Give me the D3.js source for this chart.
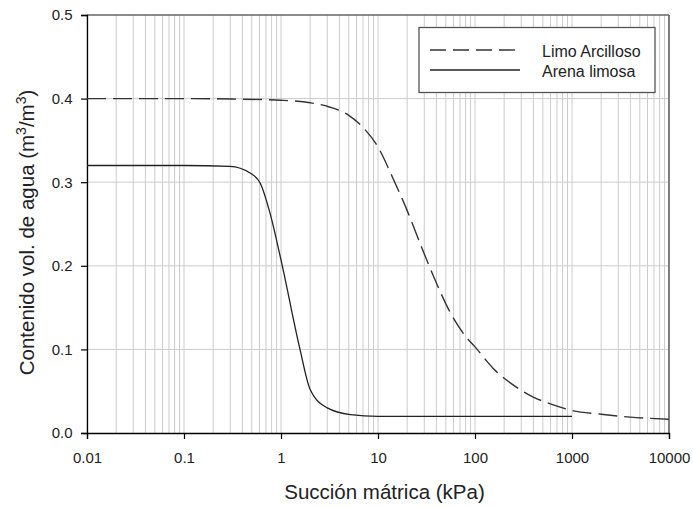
<!DOCTYPE html>
<html><head><meta charset="utf-8">
<script src="https://cdn.jsdelivr.net/npm/d3@7"></script>
<style>body{margin:0;background:#fff;} text{font-family:"Liberation Sans",Arial,sans-serif;}</style>
</head><body><svg id="c" width="693" height="506"></svg>
<script>
const xTicks = [0.01, 0.1, 1, 10, 100, 1000, 10000];
const xTickLabels = ["0.01", "0.1", "1", "10", "100", "1000", "10000"];
const yTicks = [0.0, 0.1, 0.2, 0.3, 0.4, 0.5];
const yTickLabels = ["0.0", "0.1", "0.2", "0.3", "0.4", "0.5"];
const seriesNames = ["Limo Arcilloso", "Arena limosa"];
const limoX = [0.01, 0.1, 0.316, 1, 2, 3.16, 5, 7.08, 10, 14.1, 20, 28.2, 39.8, 56.2, 79.4, 100, 158, 251, 398, 631, 1000, 2000, 3980, 10000];
const limoY = [0.400, 0.400, 0.3995, 0.398, 0.395, 0.390, 0.380, 0.365, 0.342, 0.306, 0.266, 0.222, 0.180, 0.143, 0.116, 0.103, 0.076, 0.057, 0.043, 0.034, 0.027, 0.0225, 0.019, 0.0165];
const arenaX = [0.01, 0.1, 0.297, 0.48, 0.61, 0.77, 1.0, 1.57, 2.0, 3.0, 5.2, 10, 100, 1000];
const arenaY = [0.320, 0.320, 0.319, 0.311, 0.299, 0.263, 0.207, 0.100, 0.052, 0.030, 0.022, 0.020, 0.020, 0.020];

const svg = d3.select("#c");
const L = 87, R = 669, T = 15, B = 433;
const x = d3.scaleLog().domain([0.01, 10000]).range([L, R]);
const y = d3.scaleLinear().domain([0, 0.5]).range([B, T]);

// grid
const g = svg.append("g");
const minor = [];
for (let e = -2; e < 4; e++) for (let m = 1; m <= 9; m++) minor.push(m * Math.pow(10, e));
minor.push(10000);
g.selectAll("line.vg").data(minor).enter().append("line")
  .attr("x1", d => x(d)).attr("x2", d => x(d)).attr("y1", T).attr("y2", B)
  .attr("stroke", "#cccccc").attr("stroke-width", 1);
g.selectAll("line.hg").data(yTicks.slice(1, 5)).enter().append("line")
  .attr("x1", L).attr("x2", R).attr("y1", d => y(d)).attr("y2", d => y(d))
  .attr("stroke", "#cccccc").attr("stroke-width", 1);

// frame top/right
svg.append("line").attr("x1", L).attr("x2", R).attr("y1", T).attr("y2", T).attr("stroke", "#666").attr("stroke-width", 1.6);
svg.append("line").attr("x1", R).attr("x2", R).attr("y1", T).attr("y2", B).attr("stroke", "#666").attr("stroke-width", 1.6);

// axes
const xAxis = d3.axisBottom(x).tickValues(xTicks).tickFormat((d, i) => xTickLabels[i]).tickSize(6).tickPadding(13);
const yAxis = d3.axisLeft(y).tickValues(yTicks).tickFormat((d, i) => yTickLabels[i]).tickSize(6).tickPadding(8.5);
const xa = svg.append("g").attr("transform", `translate(0,${B})`).call(xAxis);
const ya = svg.append("g").attr("transform", `translate(${L},0)`).call(yAxis);
[xa, ya].forEach(a => {
  a.select(".domain").attr("stroke", "#000").attr("stroke-width", 1.3);
  a.selectAll(".tick line").attr("stroke", "#000").attr("stroke-width", 1.2);
  a.selectAll(".tick text").attr("font-size", 15).attr("fill", "#222").style("font-family", "Liberation Sans, Arial, sans-serif");
});

// lines
const limo = limoX.map((v, i) => [v, limoY[i]]);
const arena = arenaX.map((v, i) => [v, arenaY[i]]);
const line = d3.line().x(d => x(d[0])).y(d => y(d[1])).curve(d3.curveMonotoneX);
svg.append("path").attr("d", line(limo)).attr("fill", "none")
  .attr("stroke", "#333").attr("stroke-width", 1.4).attr("stroke-dasharray", "19,7");
svg.append("path").attr("d", line(arena)).attr("fill", "none")
  .attr("stroke", "#222").attr("stroke-width", 1.3);

// legend
const lg = svg.append("g");
lg.append("rect").attr("x", 419).attr("y", 27.5).attr("width", 236).attr("height", 65)
  .attr("fill", "#fff").attr("stroke", "#555").attr("stroke-width", 1.3);
lg.append("line").attr("x1", 430).attr("x2", 520).attr("y1", 50).attr("y2", 50)
  .attr("stroke", "#333").attr("stroke-width", 1.4).attr("stroke-dasharray", "16,7");
lg.append("line").attr("x1", 430).attr("x2", 520).attr("y1", 70).attr("y2", 70)
  .attr("stroke", "#222").attr("stroke-width", 1.3);
lg.append("text").attr("x", 542).attr("y", 56.5).attr("font-size", 16).attr("fill", "#222").text(seriesNames[0]);
lg.append("text").attr("x", 542).attr("y", 76.5).attr("font-size", 16).attr("fill", "#222").text(seriesNames[1]);

// axis titles
svg.append("text").attr("x", 384.5).attr("y", 499).attr("text-anchor", "middle")
  .attr("font-size", 20.5).attr("fill", "#222").text("Succión mátrica (kPa)");
const yt = svg.append("text").attr("transform", `translate(34,232.5) rotate(-90)`)
  .attr("text-anchor", "middle").attr("font-size", 20.5).attr("fill", "#222");
yt.append("tspan").text("Contenido vol. de agua (m");
yt.append("tspan").attr("dy", -8).attr("font-size", 14).text("3");
yt.append("tspan").attr("dy", 8).text("/m");
yt.append("tspan").attr("dy", -8).attr("font-size", 14).text("3");
yt.append("tspan").attr("dy", 8).text(")");
</script></body></html>
